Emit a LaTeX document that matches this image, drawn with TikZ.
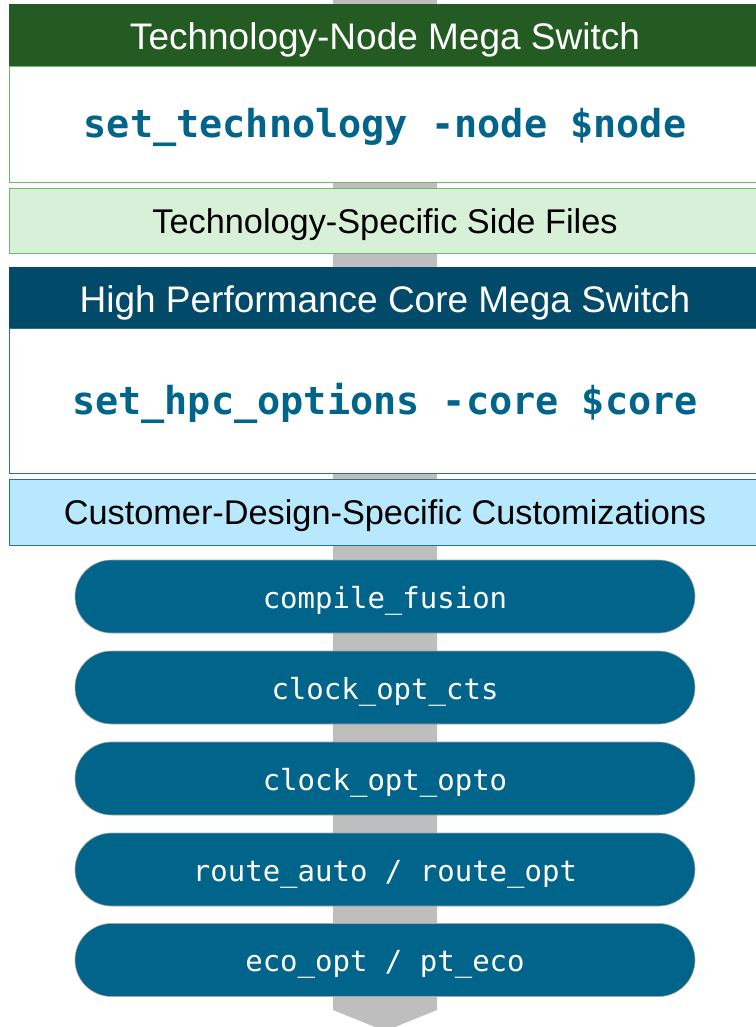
\documentclass[tikz,border=0pt]{standalone}
\usepackage{fontspec}
\setmainfont{Liberation Sans}
\newfontfamily\codefont{DejaVu Sans Mono}
\usetikzlibrary{shapes.misc}
\definecolor{techgreen}{HTML}{245B22}
\definecolor{sidegreen}{HTML}{D8EFD8}
\definecolor{greenline}{HTML}{6FB96F}
\definecolor{hpcblue}{HTML}{014A69}
\definecolor{custcyan}{HTML}{B7E8FD}
\definecolor{blueline}{HTML}{2E6E8E}
\definecolor{stepblue}{HTML}{01648A}
\definecolor{flowgray}{HTML}{BEBEBE}
\tikzset{
	header/.style={rectangle, minimum width=752pt, inner sep=0pt, text=white, text height=30pt, text depth=0pt, font=\fontsize{37}{42}\selectfont},
	cmdbox/.style={rectangle, fill=white, line width=0.8pt, minimum width=752pt, inner sep=0pt, text=stepblue, text height=28pt, text depth=0pt, font=\codefont\bfseries\fontsize{38.5}{44}\selectfont},
	sidebox/.style={rectangle, line width=0.8pt, minimum width=752pt, minimum height=65pt, inner sep=0pt, text height=25.5pt, text depth=0pt, font=\fontsize{34.3}{39}\selectfont},
	flowstep/.style={rounded rectangle, fill=stepblue, draw=gray!70, line width=0.6pt, minimum width=620pt, minimum height=73pt, inner sep=0pt, text=white, text height=23pt, text depth=0pt, font=\codefont\fontsize{29}{34}\selectfont}
}
\begin{document}
\begin{tikzpicture}[x=1pt, y=-1pt]
	\useasboundingbox (0,0) rectangle (755,1027);
	% szürke folyamatnyíl a háttérben
	\fill[flowgray] (333,0) -- (437,0) -- (437,1010) -- (385,1031) -- (333,1010) -- cycle;
	% technológia
	\node[header, fill=techgreen, minimum height=62pt] (techhdr) at (385,35) {Technology-Node Mega Switch};
	\node[cmdbox, draw=greenline, minimum height=116pt] (techcmd) at (385,124) {set\_technology -node \$node};
	\node[sidebox, fill=sidegreen, draw=greenline] (techside) at (385,220.5) {Technology-Specific Side Files};
	% HPC
	\node[header, fill=hpcblue, minimum height=61pt] (hpchdr) at (385,297.5) {High Performance Core Mega Switch};
	\node[cmdbox, draw=blueline, minimum height=145pt] (hpccmd) at (385,400.5) {set\_hpc\_options -core \$core};
	\node[sidebox, fill=custcyan, draw=blueline, minimum height=66pt] (custside) at (385,512) {Customer-Design-Specific Customizations};
	% lépések
	\node[flowstep] (compile) at (385,596.5) {compile\_fusion};
	\node[flowstep] (cts) at (385,687.5) {clock\_opt\_cts};
	\node[flowstep] (opto) at (385,778.5) {clock\_opt\_opto};
	\node[flowstep] (route) at (385,869.5) {route\_auto / route\_opt};
	\node[flowstep] (eco) at (385,960) {eco\_opt / pt\_eco};
\end{tikzpicture}
\end{document}
